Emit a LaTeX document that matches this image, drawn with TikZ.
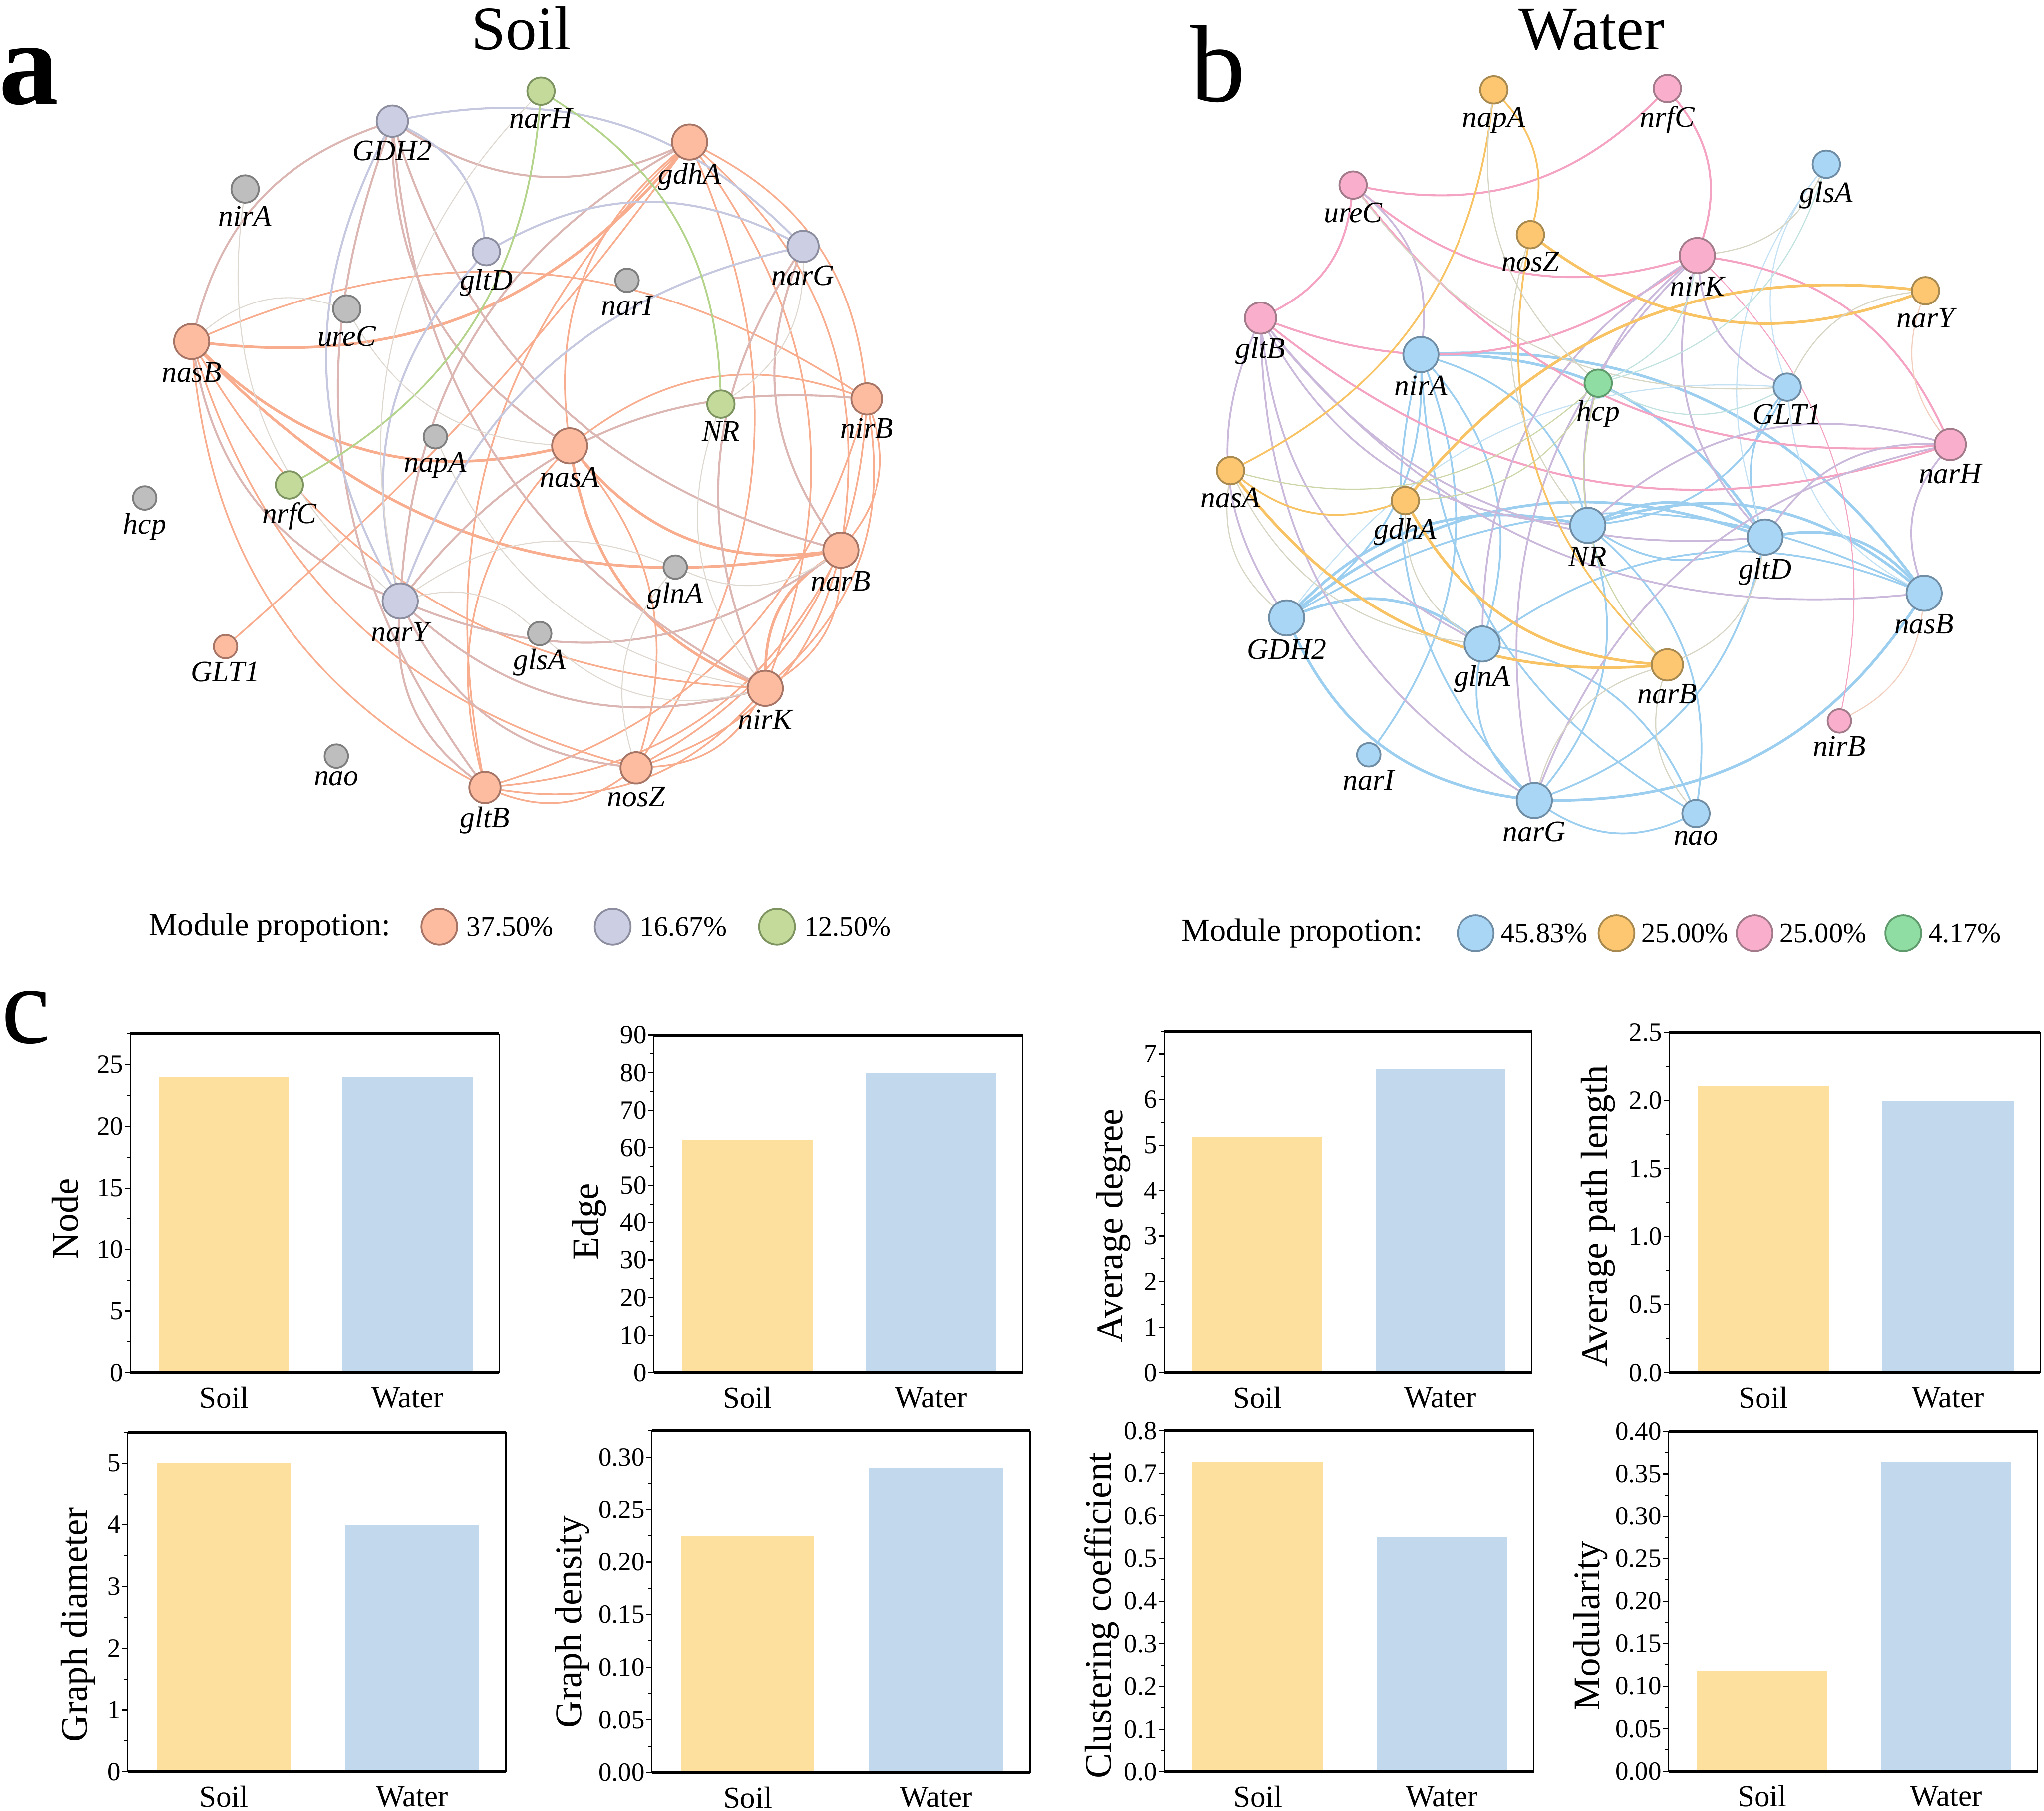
\documentclass[tikz,border=0pt]{standalone}
\usepackage{fontspec}
\setmainfont{Liberation Serif}
\usetikzlibrary{positioning}

\definecolor{soilOr}{HTML}{FDBBA0}
\definecolor{soilOrD}{HTML}{A67566}
\definecolor{soilLv}{HTML}{CCCFE3}
\definecolor{soilLvD}{HTML}{8C8E9F}
\definecolor{soilGr}{HTML}{C3DA9B}
\definecolor{soilGrD}{HTML}{7D9461}
\definecolor{soilGy}{HTML}{BEBEBE}
\definecolor{soilGyD}{HTML}{7E7E7E}
\definecolor{edgeOr}{HTML}{F8AD8F}
\definecolor{edgeMv}{HTML}{DBB6B2}
\definecolor{edgeLv}{HTML}{C5C8DF}
\definecolor{edgeGr}{HTML}{B4D38B}
\definecolor{edgeGy}{HTML}{DED8D0}
\definecolor{watBl}{HTML}{AAD6F6}
\definecolor{watBlD}{HTML}{6F8EA6}
\definecolor{watOr}{HTML}{FCC770}
\definecolor{watOrD}{HTML}{A8894F}
\definecolor{watPk}{HTML}{F9AFCB}
\definecolor{watPkD}{HTML}{A37A8A}
\definecolor{watGn}{HTML}{8FDDA2}
\definecolor{watGnD}{HTML}{5E9A6B}
\definecolor{linkBl}{HTML}{9CCEF0}
\definecolor{linkBlT}{HTML}{C5E2F5}
\definecolor{linkOr}{HTML}{F8C364}
\definecolor{linkPk}{HTML}{F5A3C2}
\definecolor{linkPu}{HTML}{CBB9DC}
\definecolor{linkBg}{HTML}{D7D5C4}
\definecolor{linkPe}{HTML}{F3CFC0}
\definecolor{linkOl}{HTML}{CCD6A8}
\definecolor{linkTl}{HTML}{C2E2E0}
\definecolor{barSoil}{HTML}{FDDF9E}
\definecolor{barWater}{HTML}{C2D8EC}

\pgfdeclarelayer{bg}
\pgfsetlayers{bg,main}

\tikzset{
  gene/.style={circle, inner sep=0pt, line width=0.8pt},
  sizeL/.style={minimum size=5.4mm},
  sizeML/.style={minimum size=4.8mm},
  sizeM/.style={minimum size=4.2mm},
  sizeS/.style={minimum size=3.6mm},
  sor/.style={gene, fill=soilOr, draw=soilOrD},
  slv/.style={gene, fill=soilLv, draw=soilLvD},
  sgr/.style={gene, fill=soilGr, draw=soilGrD},
  sgy/.style={gene, fill=soilGy, draw=soilGyD},
  wbl/.style={gene, fill=watBl, draw=watBlD},
  wor/.style={gene, fill=watOr, draw=watOrD},
  wpk/.style={gene, fill=watPk, draw=watPkD},
  wgn/.style={gene, fill=watGn, draw=watGnD},
  glab/.style={font=\fontsize{13}{13}\selectfont\itshape, inner sep=1pt},
  arcbend/.style={bend right=28},
  sEdgeK/.style={draw=edgeOr, line width=1.2pt},
  sEdge/.style={draw=edgeOr, line width=0.75pt},
  sEdgeM/.style={draw=edgeMv, line width=0.9pt},
  sEdgeL/.style={draw=edgeLv, line width=0.9pt},
  sEdgeG/.style={draw=edgeGr, line width=0.8pt},
  sEdgeT/.style={draw=edgeGy, line width=0.45pt},
  wEdgeK/.style={draw=linkBl, line width=1.2pt},
  wEdge/.style={draw=linkBl, line width=0.8pt},
  wEdgeT/.style={draw=linkBlT, line width=0.5pt},
  wEdgeP/.style={draw=linkPk, line width=0.9pt},
  wEdgeU/.style={draw=linkPu, line width=0.8pt},
  wEdgeOK/.style={draw=linkOr, line width=1.2pt},
  wEdgeO/.style={draw=linkOr, line width=0.8pt},
  wEdgeB/.style={draw=linkBg, line width=0.5pt},
  wEdgeE/.style={draw=linkPe, line width=0.5pt},
  wEdgeV/.style={draw=linkOl, line width=0.5pt},
  wEdgeC/.style={draw=linkTl, line width=0.5pt},
  paneltitle/.style={font=\fontsize{27}{27}\selectfont, anchor=base},
  panelletter/.style={font=\fontsize{48}{48}\selectfont, anchor=base west, inner sep=0pt},
  legname/.style={font=\fontsize{14}{14}\selectfont},
  legtxt/.style={font=\fontsize{12.3}{12.3}\selectfont, inner sep=0pt},
  ticklab/.style={anchor=east, inner sep=0.6pt, font=\fontsize{11.5}{11.5}\selectfont},
  axlab/.style={rotate=90, font=\fontsize{16.4}{16.4}\selectfont},
  catlab/.style={font=\fontsize{13.3}{13.3}\selectfont},
  majtick/.style={line width=0.5pt},
  mintick/.style={line width=0.4pt},
  sideline/.style={line width=0.6pt},
  rimline/.style={line width=1.3pt},
  soilbar/.style={fill=barSoil},
  waterbar/.style={fill=barWater}
}

% #1 left, #2 top, #3 right, #4 bottom, #5 soil bar top, #6 water bar top
\newcommand{\statpanel}[6]{%
  \fill[soilbar] ({#1+0.077*(#3-#1)},#4) rectangle ({#1+0.43*(#3-#1)},#5);
  \fill[waterbar] ({#1+0.575*(#3-#1)},#4) rectangle ({#1+0.928*(#3-#1)},#6);
  \draw[sideline] (#1,#2) -- (#1,#4) (#3,#2) -- (#3,#4);
  \draw[rimline] (#1,#2) -- (#3,#2) (#1,#4) -- (#3,#4);
  \node[catlab] at ({#1+0.254*(#3-#1)},{#4+19}) {Soil};
  \node[catlab] at ({#1+0.752*(#3-#1)},{#4+19}) {Water};
}

\begin{document}
\begin{tikzpicture}[x=0.02cm, y=-0.02cm]
\useasboundingbox (0,0) rectangle (1568,1389);

% panel letters and titles
\node[panelletter, font=\fontsize{52}{52}\selectfont\bfseries] at (-1,80) {a};
\node[panelletter] at (913,78) {b};
\node[panelletter] at (1,800) {c};
\node[paneltitle] at (400,38) {Soil};
\node[paneltitle] at (1221,38) {Water};

% soil network
\foreach \n/\x/\y/\s/\m in {
  GDH2/301/93/sizeML/slv, narH/415/70/sizeM/sgr, gdhA/529/109/sizeL/sor,
  nirA/188/145/sizeM/sgy, gltD/373/193/sizeM/slv, narG/616/189/sizeML/slv,
  narI/481/215/sizeS/sgy, ureC/266/237/sizeM/sgy, nasB/147/262/sizeL/sor,
  NR/553/310/sizeM/sgr, nirB/665/306/sizeML/sor, napA/334/335/sizeS/sgy,
  nasA/437/342/sizeL/sor, hcp/111/382/sizeS/sgy, nrfC/222/372/sizeM/sgr,
  glnA/518/435/sizeS/sgy, narB/645/422/sizeL/sor, narY/307/461/sizeL/slv,
  glsA/414/486/sizeS/sgy, GLT1/173/496/sizeS/sor, nirK/587/528/sizeL/sor,
  nao/258/580/sizeS/sgy, nosZ/488/589/sizeML/sor, gltB/372/604/sizeML/sor}
  \node[\m, \s, label={[glab]below:\n}] (s-\n) at (\x,\y) {};

% water network
\foreach \n/\x/\y/\s/\m in {
  napA/1146/69/sizeM/wor, nrfC/1279/68/sizeM/wpk, ureC/1038/142/sizeM/wpk,
  glsA/1401/126/sizeM/wbl, nosZ/1174/180/sizeM/wor, nirK/1302/196/sizeL/wpk,
  narY/1477/223/sizeM/wor, gltB/967/244/sizeML/wpk, nirA/1090/272/sizeL/wbl,
  hcp/1226/294/sizeM/wgn, GLT1/1371/297/sizeM/wbl, narH/1496/341/sizeML/wpk,
  nasA/944/361/sizeM/wor, gdhA/1078/384/sizeM/wor, NR/1218/403/sizeL/wbl,
  gltD/1354/412/sizeL/wbl, GDH2/987/474/sizeL/wbl, nasB/1476/455/sizeL/wbl,
  glnA/1137/494/sizeL/wbl, narB/1279/510/sizeML/wor, nirB/1411/553/sizeS/wpk,
  narI/1050/579/sizeS/wbl, narG/1177/614/sizeL/wbl, nao/1301/624/sizeM/wbl}
  \node[\m, \s, label={[glab]below:\n}] (w-\n) at (\x,\y) {};

\begin{pgfonlayer}{bg}
% soil links
\foreach \a/\b in {nasB/gdhA, nasB/nasA, nasA/narB, nasA/nirK, narB/nirK, nasB/narB}
  \draw[sEdgeK] (s-\a) to[arcbend] (s-\b);
\foreach \a/\b in {nirB/nasB, nasB/nirK, nasB/nosZ, nasB/gltB, nirB/gdhA, narB/gdhA,
    nirK/gdhA, gdhA/nasA, nosZ/gdhA, gdhA/gltB, nirK/nirB, narB/nirB, nosZ/nirB,
    gltB/nirB, nirB/nasA, nosZ/narB, gltB/narB, nosZ/nirK, gltB/nirK, gltB/nosZ,
    nosZ/nasA, nasA/gltB, nirK/narB}
  \draw[sEdge] (s-\a) to[arcbend] (s-\b);
\draw[sEdge] (s-GLT1) to[bend right=6] (s-gdhA);
\foreach \a/\b in {GDH2/gdhA, GDH2/nasB, GDH2/nasA, GDH2/narB, GDH2/nirK, GDH2/gltB,
    nasB/narY, narY/nirK, narY/narB, narY/gltB, narY/nosZ, gdhA/narY, narG/nirK,
    narG/narB, nirB/narY}
  \draw[sEdgeM] (s-\a) to[arcbend] (s-\b);
\foreach \a/\b in {narG/GDH2, gltD/GDH2, GDH2/narY, narG/gltD, narG/narY, gltD/narY}
  \draw[sEdgeL] (s-\a) to[arcbend] (s-\b);
\foreach \a/\b in {NR/narH, nrfC/narH}
  \draw[sEdgeG] (s-\a) to[arcbend] (s-\b);
\foreach \a/\b in {narH/narY, nirA/narY, ureC/nasB, ureC/nasA, napA/nirK, glnA/narB,
    glnA/nosZ, glsA/nirK, glsA/narY, NR/narG, NR/nirK, glnA/narY}
  \draw[sEdgeT] (s-\a) to[arcbend] (s-\b);

% water links
\foreach \a/\b in {gltD/nirA, nasB/nirA, NR/GDH2, gltD/GDH2, gltD/NR, nasB/NR,
    nasB/gltD, GDH2/narG, narG/nasB, glnA/GDH2}
  \draw[wEdgeK] (w-\a) to[arcbend] (w-\b);
\foreach \a/\b in {NR/nirA, nasB/GDH2, NR/gltD, glnA/nirA, nasB/glnA, glnA/narG,
    nirA/narG, narG/NR, narG/gltD, narG/nao, nao/NR, nirA/nao, narI/nirA,
    GLT1/gltD, NR/GLT1, GDH2/nirA, nao/glnA}
  \draw[wEdge] (w-\a) to[arcbend] (w-\b);
\foreach \a/\b in {glsA/GLT1, glsA/gltD, GLT1/nasB, GLT1/GDH2}
  \draw[wEdgeT] (w-\a) to[arcbend] (w-\b);
\foreach \a/\b in {ureC/nrfC, nirK/nrfC, gltB/ureC, ureC/nirK, ureC/narH, gltB/nirK,
    gltB/narH, narH/nirK}
  \draw[wEdgeP] (w-\a) to[arcbend] (w-\b);
\draw[wEdgeP, line width=0.45pt] (w-nirB) to[arcbend] (w-nirK);
\foreach \a/\b in {nirA/ureC, gltB/GDH2, gltB/glnA, gltB/NR, gltB/gltD, gltB/narG,
    gltB/nasB, nirK/NR, nirK/gltD, nirK/GLT1, nirK/glnA, nirK/narG, narH/NR,
    narH/gltD, narH/narG, narH/nasB}
  \draw[wEdgeU] (w-\a) to[arcbend] (w-\b);
\foreach \a/\b in {nosZ/narY, narY/gdhA, gdhA/narB, nasA/narB}
  \draw[wEdgeOK] (w-\a) to[arcbend] (w-\b);
\foreach \a/\b in {nasA/napA, nosZ/napA, nosZ/narB, nasA/gdhA}
  \draw[wEdgeO] (w-\a) to[arcbend] (w-\b);
\foreach \a/\b in {napA/hcp, nasA/GDH2, nasA/glnA, narY/GLT1, narB/narG, narB/nao,
    narB/gltD, gdhA/glnA, nosZ/NR, ureC/GLT1, nirK/glsA}
  \draw[wEdgeB] (w-\a) to[arcbend] (w-\b);
\foreach \a/\b in {narY/narH, nirB/nasB}
  \draw[wEdgeE] (w-\a) to[arcbend] (w-\b);
\foreach \a/\b in {nasA/hcp, hcp/narB, gdhA/hcp}
  \draw[wEdgeV] (w-\a) to[arcbend] (w-\b);
\foreach \a/\b in {hcp/glsA, hcp/GLT1, hcp/nirK}
  \draw[wEdgeC] (w-\a) to[arcbend] (w-\b);
\end{pgfonlayer}

% legends
\node[legname] (sleg) at (207,712) {Module propotion:};
\node[sor, minimum size=5.5mm] (sleg1) at (337,711) {};
\node[legtxt, right=3.5pt of sleg1] {37.50\%};
\node[slv, minimum size=5.5mm] (sleg2) at (470,711) {};
\node[legtxt, right=3.5pt of sleg2] {16.67\%};
\node[sgr, minimum size=5.5mm] (sleg3) at (596,711) {};
\node[legtxt, right=3.5pt of sleg3] {12.50\%};

\node[legname] (wleg) at (999,716) {Module propotion:};
\node[wbl, minimum size=5.5mm] (wleg1) at (1132,716) {};
\node[legtxt, right=2.5pt of wleg1] {45.83\%};
\node[wor, minimum size=5.5mm] (wleg2) at (1240,716) {};
\node[legtxt, right=2.5pt of wleg2] {25.00\%};
\node[wpk, minimum size=5.5mm] (wleg3) at (1346,716) {};
\node[legtxt, right=2.5pt of wleg3] {25.00\%};
\node[wgn, minimum size=5.5mm] (wleg4) at (1460,716) {};
\node[legtxt, right=2.5pt of wleg4] {4.17\%};

% c: network properties
% Node
\statpanel{100}{793}{383}{1053}{826.1}{826.1}
\foreach \v in {0,5,10,15,20,25}
  \draw[majtick] (100,{1053-\v*9.4545}) -- ++(-4,0) node[ticklab] {\v};
\foreach \v in {2.5,7.5,12.5,17.5,22.5,27.5}
  \draw[mintick] (100,{1053-\v*9.4545}) -- ++(-2.5,0);
\node[axlab] at (50,935) {Node};

% Edge
\statpanel{501.5}{794}{784.6}{1053}{874.6}{822.8}
\foreach \v in {0,10,20,30,40,50,60,70,80,90}
  \draw[majtick] (501.5,{1053-\v*2.8778}) -- ++(-4,0) node[ticklab] {\v};
\foreach \v in {5,15,25,35,45,55,65,75,85}
  \draw[mintick] (501.5,{1053-\v*2.8778}) -- ++(-2.5,0);
\node[axlab] at (452,937) {Edge};

% Average degree
\statpanel{893}{791}{1175}{1053}{872.4}{820}
\foreach \v in {0,1,2,3,4,5,6,7}
  \draw[majtick] (893,{1053-\v*34.93}) -- ++(-4,0) node[ticklab] {\v};
\foreach \v in {0.5,1.5,2.5,3.5,4.5,5.5,6.5,7.5}
  \draw[mintick] (893,{1053-\v*34.93}) -- ++(-2.5,0);
\node[axlab] at (854,940) {Average degree};

% Average path length
\statpanel{1280.5}{792}{1565}{1053}{832.7}{844.2}
\foreach \v in {0.0,0.5,1.0,1.5,2.0,2.5}
  \draw[majtick] (1280.5,{1053-\v*104.4}) -- ++(-4,0) node[ticklab] {\v};
\foreach \v in {0.25,0.75,1.25,1.75,2.25}
  \draw[mintick] (1280.5,{1053-\v*104.4}) -- ++(-2.5,0);
\node[axlab] at (1226,933) {Average path length};

% Graph diameter
\statpanel{98}{1098.5}{388}{1359}{1122.2}{1169.6}
\foreach \v in {0,1,2,3,4,5}
  \draw[majtick] (98,{1359-\v*47.36}) -- ++(-4,0) node[ticklab] {\v};
\foreach \v in {0.5,1.5,2.5,3.5,4.5,5.5}
  \draw[mintick] (98,{1359-\v*47.36}) -- ++(-2.5,0);
\node[axlab] at (60,1246) {Graph diameter};

% Graph density
\statpanel{500}{1097.5}{790}{1359.5}{1178.1}{1125.7}
\foreach \v in {0.00,0.05,0.10,0.15,0.20,0.25,0.30}
  \draw[majtick] (500,{1359.5-\v*806.2}) -- ++(-4,0) node[ticklab] {\v};
\foreach \v in {0.025,0.075,0.125,0.175,0.225,0.275,0.325}
  \draw[mintick] (500,{1359.5-\v*806.2}) -- ++(-2.5,0);
\node[axlab] at (439,1244) {Graph density};

% Clustering coefficient
\statpanel{893}{1097.5}{1176.5}{1359}{1121}{1179.2}
\foreach \v in {0.0,0.1,0.2,0.3,0.4,0.5,0.6,0.7,0.8}
  \draw[majtick] (893,{1359-\v*326.9}) -- ++(-4,0) node[ticklab] {\v};
\foreach \v in {0.05,0.15,0.25,0.35,0.45,0.55,0.65,0.75}
  \draw[mintick] (893,{1359-\v*326.9}) -- ++(-2.5,0);
\node[axlab] at (845,1239) {Clustering coefficient};

% Modularity
\statpanel{1280}{1098}{1563}{1358.5}{1281.7}{1121.5}
\foreach \v in {0.00,0.05,0.10,0.15,0.20,0.25,0.30,0.35,0.40}
  \draw[majtick] (1280,{1358.5-\v*651.25}) -- ++(-4,0) node[ticklab] {\v};
\foreach \v in {0.025,0.075,0.125,0.175,0.225,0.275,0.325,0.375}
  \draw[mintick] (1280,{1358.5-\v*651.25}) -- ++(-2.5,0);
\node[axlab] at (1220,1247) {Modularity};
\end{tikzpicture}
\end{document}
